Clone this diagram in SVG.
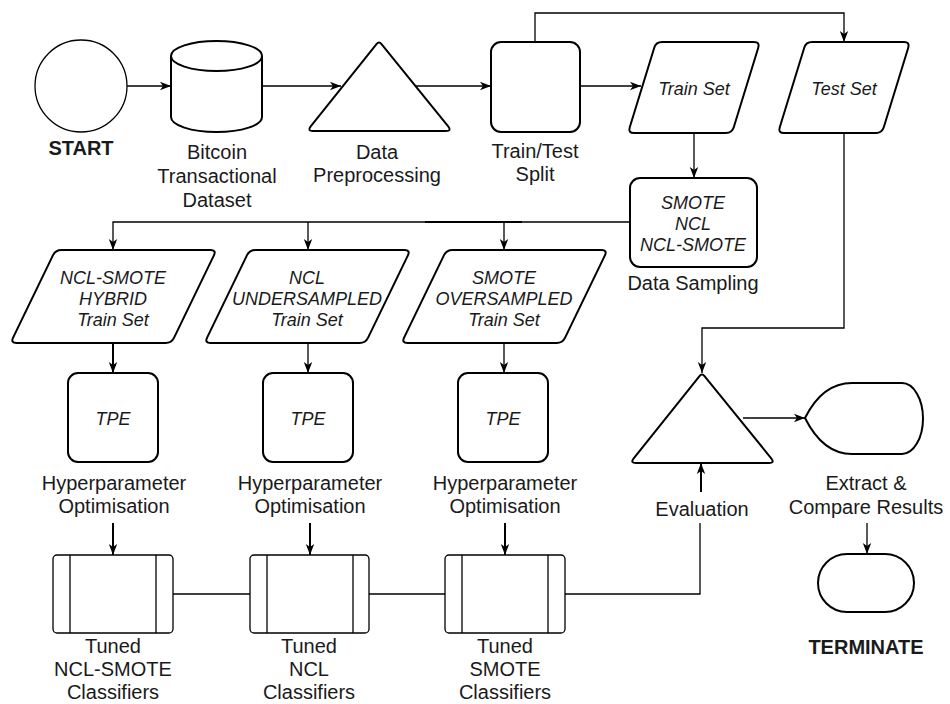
<svg xmlns="http://www.w3.org/2000/svg" xmlns:xlink="http://www.w3.org/1999/xlink" width="950" height="704" viewBox="0 0 950 704">
  <style>
    .shape { fill: #ffffff; stroke: #000000; stroke-width: 2; stroke-linejoin: round; }
    .thin { fill: #ffffff; stroke: #000000; stroke-width: 1.3; }
    .conn { fill: none; stroke: #000000; stroke-width: 1.3; }
    .conn-thick { fill: none; stroke: #000000; stroke-width: 2; }
    .label { font-family: "Liberation Sans", Arial, sans-serif; font-size: 20px; fill: #1a1a1a; text-anchor: middle; }
    .bold { font-weight: bold; }
    .inner { font-family: "Liberation Sans", Arial, sans-serif; font-size: 18px; font-style: italic; fill: #1a1a1a; text-anchor: middle; }
  </style>
  <defs>
    <marker id="arrow" markerUnits="userSpaceOnUse" markerWidth="12" markerHeight="10" viewBox="0 0 12 10" refX="11" refY="5" orient="auto">
      <path d="M0,0.8 L11,5 L0,9.2 L3,5 Z" fill="#000000"/>
    </marker>
    <!-- rounded triangle, apex at (379,41) -->
    <path id="tri" d="M376.5,44.1 Q379,41 381.5,44.1 L448.2,126.3 Q452,131 446,131 L313,131 Q307,131 310.7,126.3 Z"/>
    <!-- small data parallelogram centred on x=0 -->
    <path id="para-s" d="M-32,42 L60,42 Q66,42 64.24,47.74 L39.76,127.26 Q38,133 32,133 L-60,133 Q-66,133 -64.24,127.26 L-39.76,47.74 Q-38,42 -32,42 Z"/>
    <!-- wide data parallelogram centred on x=0 -->
    <path id="para-w" d="M-52,250 L97,250 Q103,250 100.4,255.4 L60.6,337.6 Q58,343 52,343 L-97,343 Q-103,343 -100.4,337.6 L-60.6,255.4 Q-58,250 -52,250 Z"/>
  </defs>

  <!-- connectors -->
  <g id="connectors">
    <line class="conn" x1="127" y1="86" x2="171" y2="86" marker-end="url(#arrow)"/>
    <line class="conn" x1="262" y1="86" x2="341" y2="86" marker-end="url(#arrow)"/>
    <line class="conn" x1="415" y1="86" x2="491" y2="86" marker-end="url(#arrow)"/>
    <line class="conn" x1="580" y1="86" x2="641" y2="86" marker-end="url(#arrow)"/>
    <path class="conn" d="M535,42 V13 H844 V42" marker-end="url(#arrow)"/>
    <line class="conn" x1="694" y1="133" x2="694" y2="178" marker-end="url(#arrow)"/>
    <path class="conn" d="M844,133 V328 H702 V373" marker-end="url(#arrow)"/>
    <path class="conn" d="M630,222 H113 V250" marker-end="url(#arrow)"/>
    <line class="conn-thick" x1="425" y1="222" x2="522" y2="222"/>
    <line class="conn" x1="308" y1="222" x2="308" y2="250" marker-end="url(#arrow)"/>
    <line class="conn" x1="504" y1="222" x2="504" y2="250" marker-end="url(#arrow)"/>
    <line class="conn-thick" x1="113" y1="343" x2="113" y2="373" marker-end="url(#arrow)"/>
    <line class="conn" x1="308" y1="343" x2="308" y2="373" marker-end="url(#arrow)"/>
    <line class="conn" x1="504" y1="343" x2="504" y2="373" marker-end="url(#arrow)"/>
    <line class="conn-thick" x1="113" y1="523" x2="113" y2="555" marker-end="url(#arrow)"/>
    <line class="conn-thick" x1="310" y1="523" x2="310" y2="555" marker-end="url(#arrow)"/>
    <line class="conn-thick" x1="505" y1="523" x2="505" y2="555" marker-end="url(#arrow)"/>
    <line class="conn" x1="173" y1="594" x2="250" y2="594"/>
    <line class="conn" x1="369" y1="594" x2="445" y2="594"/>
    <path class="conn" d="M565,594 H700 V523"/>
    <line class="conn-thick" x1="701" y1="492" x2="701" y2="463" marker-end="url(#arrow)"/>
    <line class="conn" x1="743" y1="418" x2="805" y2="418" marker-end="url(#arrow)"/>
    <line class="conn" x1="867" y1="523" x2="867" y2="554" marker-end="url(#arrow)"/>
  </g>

  <!-- start -->
  <g id="start">
    <circle class="thin" cx="81" cy="86" r="46"/>
    <text class="label bold" x="81" y="155">START</text>
  </g>

  <!-- dataset cylinder -->
  <g id="dataset">
    <path class="shape" d="M171,56 A45.5,15 0 0 1 262,56 V117 A45.5,15 0 0 1 171,117 Z"/>
    <path class="shape" fill="none" d="M171,56 A45.5,15 0 0 0 262,56"/>
    <text class="label" x="217" y="159">Bitcoin</text>
    <text class="label" x="217" y="183">Transactional</text>
    <text class="label" x="217" y="207">Dataset</text>
  </g>

  <!-- preprocessing -->
  <g id="preprocessing">
    <use xlink:href="#tri" class="shape"/>
    <text class="label" x="377" y="159">Data</text>
    <text class="label" x="377" y="182">Preprocessing</text>
  </g>

  <!-- train / test split -->
  <g id="split">
    <rect class="shape" x="491" y="42" width="89" height="90" rx="10"/>
    <text class="label" x="535" y="158">Train/Test</text>
    <text class="label" x="535" y="181">Split</text>
  </g>

  <g id="train-set">
    <use xlink:href="#para-s" class="shape" transform="translate(694,0)"/>
    <text class="inner" x="694" y="95">Train Set</text>
  </g>

  <g id="test-set">
    <use xlink:href="#para-s" class="shape" transform="translate(844,0)"/>
    <text class="inner" x="844" y="95">Test Set</text>
  </g>

  <!-- data sampling -->
  <g id="sampling">
    <rect class="shape" x="630" y="178" width="127" height="89" rx="10"/>
    <text class="inner" x="693" y="209">SMOTE</text>
    <text class="inner" x="693" y="230">NCL</text>
    <text class="inner" x="693" y="251">NCL-SMOTE</text>
    <text class="label" x="693" y="290">Data Sampling</text>
  </g>

  <!-- sampled train sets -->
  <g id="hybrid-set">
    <use xlink:href="#para-w" class="shape" transform="translate(113.5,0)"/>
    <text class="inner" x="113" y="284">NCL-SMOTE</text>
    <text class="inner" x="113" y="305">HYBRID</text>
    <text class="inner" x="113" y="326">Train Set</text>
  </g>
  <g id="under-set">
    <use xlink:href="#para-w" class="shape" transform="translate(307.5,0)"/>
    <text class="inner" x="307" y="284">NCL</text>
    <text class="inner" x="307" y="305">UNDERSAMPLED</text>
    <text class="inner" x="307" y="326">Train Set</text>
  </g>
  <g id="over-set">
    <use xlink:href="#para-w" class="shape" transform="translate(504.5,0)"/>
    <text class="inner" x="504" y="284">SMOTE</text>
    <text class="inner" x="504" y="305">OVERSAMPLED</text>
    <text class="inner" x="504" y="326">Train Set</text>
  </g>

  <!-- hyperparameter optimisation -->
  <g id="tpe-1">
    <rect class="shape" x="68" y="373" width="90" height="89" rx="10"/>
    <text class="inner" x="113" y="425">TPE</text>
    <text class="label" x="114" y="490">Hyperparameter</text>
    <text class="label" x="114" y="513">Optimisation</text>
  </g>
  <g id="tpe-2">
    <rect class="shape" x="263" y="373" width="90" height="89" rx="10"/>
    <text class="inner" x="308" y="425">TPE</text>
    <text class="label" x="310" y="490">Hyperparameter</text>
    <text class="label" x="310" y="513">Optimisation</text>
  </g>
  <g id="tpe-3">
    <rect class="shape" x="458" y="373" width="90" height="89" rx="10"/>
    <text class="inner" x="503" y="425">TPE</text>
    <text class="label" x="505" y="490">Hyperparameter</text>
    <text class="label" x="505" y="513">Optimisation</text>
  </g>

  <!-- tuned classifiers -->
  <g id="clf-1">
    <rect class="thin" x="53" y="555" width="120" height="78" rx="4"/>
    <line class="thin" x1="70" y1="555" x2="70" y2="633"/>
    <line class="thin" x1="156" y1="555" x2="156" y2="633"/>
    <text class="label" x="113" y="653">Tuned</text>
    <text class="label" x="113" y="676">NCL-SMOTE</text>
    <text class="label" x="113" y="699">Classifiers</text>
  </g>
  <g id="clf-2">
    <rect class="thin" x="250" y="555" width="119" height="78" rx="4"/>
    <line class="thin" x1="267" y1="555" x2="267" y2="633"/>
    <line class="thin" x1="353" y1="555" x2="353" y2="633"/>
    <text class="label" x="309" y="653">Tuned</text>
    <text class="label" x="309" y="676">NCL</text>
    <text class="label" x="309" y="699">Classifiers</text>
  </g>
  <g id="clf-3">
    <rect class="thin" x="445" y="555" width="120" height="78" rx="4"/>
    <line class="thin" x1="462" y1="555" x2="462" y2="633"/>
    <line class="thin" x1="548" y1="555" x2="548" y2="633"/>
    <text class="label" x="505" y="653">Tuned</text>
    <text class="label" x="505" y="676">SMOTE</text>
    <text class="label" x="505" y="699">Classifiers</text>
  </g>

  <!-- evaluation -->
  <g id="evaluation">
    <use xlink:href="#tri" class="shape" transform="translate(323,332)"/>
    <text class="label" x="702" y="516">Evaluation</text>
  </g>

  <!-- results display -->
  <g id="results">
    <path class="shape" d="M805,418 C815,398 830,383 852,383 L902,383 A21,35.5 0 0 1 902,454 L852,454 C830,454 815,438 805,418 Z"/>
    <text class="label" x="866" y="490">Extract &amp;</text>
    <text class="label" x="866" y="514">Compare Results</text>
  </g>

  <!-- terminate -->
  <g id="terminate">
    <rect class="shape" x="818" y="554" width="96" height="58" rx="29"/>
    <text class="label bold" x="866" y="654">TERMINATE</text>
  </g>
</svg>
